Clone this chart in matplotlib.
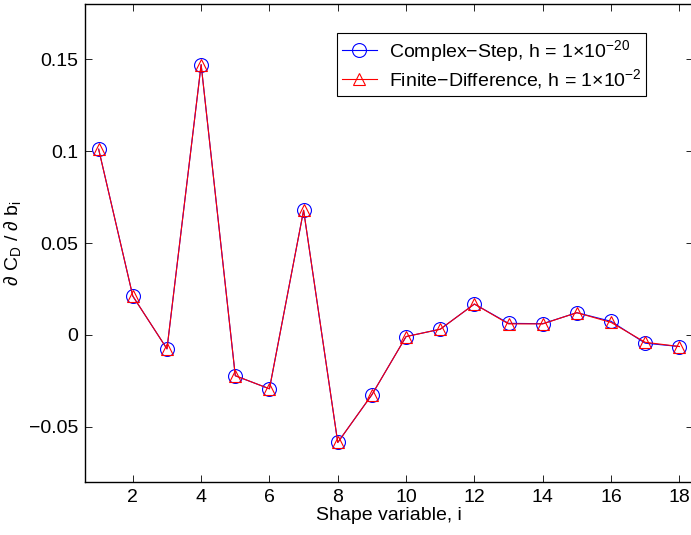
import matplotlib
matplotlib.use('Agg')
import matplotlib.pyplot as plt

plt.rcParams['font.family'] = ['Liberation Sans', 'DejaVu Sans']
plt.rcParams['mathtext.fontset'] = 'custom'
plt.rcParams['mathtext.rm'] = 'Liberation Sans'
plt.rcParams['mathtext.it'] = 'Liberation Sans:italic'

shape_vars = list(range(1, 19))
complex_step = [0.101, 0.0211, -0.0076, 0.147, -0.0222, -0.0293, 0.0678, -0.0585, -0.0325,
                -0.0009, 0.0031, 0.0168, 0.0063, 0.0061, 0.0121, 0.0074, -0.0045, -0.0063]
finite_diff = [0.101, 0.0211, -0.0076, 0.147, -0.0222, -0.0293, 0.0678, -0.0585, -0.0325,
               -0.0009, 0.0031, 0.0168, 0.0060, 0.0060, 0.0121, 0.0068, -0.0040, -0.0063]
x_ticks = [2, 4, 6, 8, 10, 12, 14, 16, 18]
y_ticks = [-0.05, 0, 0.05, 0.1, 0.15]
y_tick_labels = ['\u22120.05', '0', '0.05', '0.1', '0.15']

fig = plt.figure(figsize=(6.91, 5.35), dpi=100)
ax = fig.add_axes([85 / 691, 53 / 535, 608 / 691, 478 / 535])

ax.plot(shape_vars, complex_step, color='blue', lw=0.8, marker='o', markersize=10,
        markerfacecolor='none', markeredgecolor='blue', markeredgewidth=0.8,
        label='Complex\u2212Step, h = 1\u00d710$^{\u221220}$')
ax.plot(shape_vars, finite_diff, color='red', lw=0.8, marker='^', markersize=9,
        markerfacecolor='none', markeredgecolor='red', markeredgewidth=0.8,
        label='Finite\u2212Difference, h = 1\u00d710$^{\u22122}$')

ax.set_xlim(0.6, 18.4)
ax.set_ylim(-0.08, 0.18)
ax.set_xticks(x_ticks)
ax.set_yticks(y_ticks)
ax.set_yticklabels(y_tick_labels)
ax.tick_params(direction='in', top=True, right=True, labelsize=14, length=5, width=0.6, pad=5)
for s in ax.spines.values():
    s.set_linewidth(1.0)

ax.set_xlabel('Shape variable, i', fontsize=14, labelpad=1)
ax.set_ylabel('\u2202 C$_\\mathrm{D}$ / \u2202 b$_\\mathrm{i}$', fontsize=14, labelpad=4)

leg = ax.legend(loc='upper right', bbox_to_anchor=(0.923, 0.939), borderaxespad=0,
                fontsize=14, fancybox=False, framealpha=1, edgecolor='black',
                handlelength=1.8, handletextpad=0.6, borderpad=0.25, labelspacing=0.15)
leg.get_frame().set_linewidth(0.8)

fig.savefig('out.png', dpi=100)
